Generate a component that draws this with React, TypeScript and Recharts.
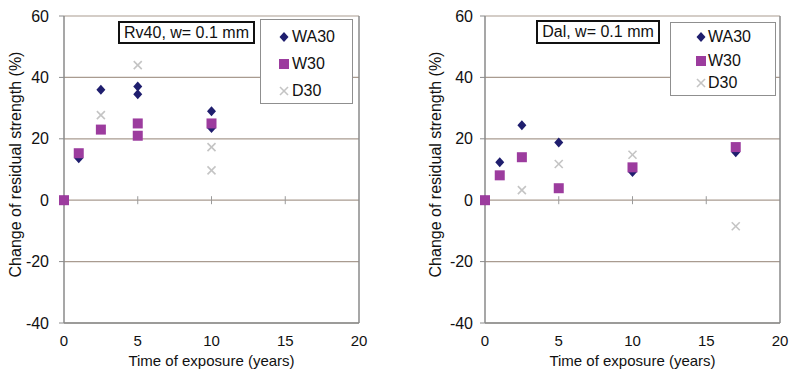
import React from 'react';
import {
  ScatterChart, Scatter, XAxis, YAxis, CartesianGrid, ReferenceLine, Legend,
} from 'recharts';

// ---------- data ----------
const xTicks = [0, 5, 10, 15, 20];
const yTicks = [-40, -20, 0, 20, 40, 60];
const zeroLineTicks = [5, 10, 15];
const seriesNames = ['WA30', 'W30', 'D30'];

// Left panel: Rv40, w= 0.1 mm
const rvWA30x = [0, 1, 2.5, 5, 5, 10, 10];
const rvWA30y = [0, 13.7, 36, 37, 34.5, 29, 23.5];
const rvW30x = [0, 1, 2.5, 5, 5, 10];
const rvW30y = [0, 15.3, 23, 25, 21, 25];
const rvD30x = [0, 2.5, 5, 10, 10];
const rvD30y = [0, 27.7, 44, 17.3, 9.7];

// Right panel: Dal, w= 0.1 mm
const dalWA30x = [0, 1, 2.5, 5, 10, 17];
const dalWA30y = [0, 12.4, 24.4, 18.8, 9.2, 15.6];
const dalW30x = [0, 1, 2.5, 5, 10, 17];
const dalW30y = [0, 8.1, 14, 3.9, 10.7, 17.3];
const dalD30x = [0, 2.5, 5, 10, 17];
const dalD30y = [0, 3.3, 11.8, 14.8, -8.5];

const zip = (xs: number[], ys: number[]) => xs.map((x, i) => ({ x, y: ys[i] }));

// ---------- styles ----------
const FONT = '"Liberation Sans", Arial, sans-serif';
const NAVY = '#1f1e6e';
const PURPLE = '#9c3c9e';
const LIGHT = '#c4c4c4';
const GRID = '#a99b90';
const AXIS = '#8a8a8a';

const Diamond = (p: any) => {
  const { cx, cy } = p;
  if (cx == null || cy == null) return null;
  return (
    <polygon
      points={`${cx},${cy - 5} ${cx + 4.5},${cy} ${cx},${cy + 5} ${cx - 4.5},${cy}`}
      fill={NAVY}
    />
  );
};
const Square = (p: any) => {
  const { cx, cy } = p;
  if (cx == null || cy == null) return null;
  return <rect x={cx - 5} y={cy - 5} width={10} height={10} fill={PURPLE} />;
};
const XMark = (p: any) => {
  const { cx, cy } = p;
  if (cx == null || cy == null) return null;
  return (
    <g stroke={LIGHT} strokeWidth={1.6}>
      <line x1={cx - 4} y1={cy - 4} x2={cx + 4} y2={cy + 4} />
      <line x1={cx - 4} y1={cy + 4} x2={cx + 4} y2={cy - 4} />
    </g>
  );
};

const markerFor = (name: string, cx: number, cy: number) => {
  if (name === 'WA30') return <Diamond cx={cx} cy={cy} />;
  if (name === 'W30') return <Square cx={cx} cy={cy} />;
  return <XMark cx={cx} cy={cy} />;
};

const makeLegend = (box: { left: number; top: number; width: number; height: number; rows: number[]; mx: number; tx: number }) =>
  () => (
    <div
      style={{
        position: 'relative', width: box.width, height: box.height,
        border: '1px solid #8f8f8f', background: '#fff', boxSizing: 'border-box',
        fontFamily: FONT, fontSize: 16, color: '#111',
      }}
    >
      {seriesNames.map((n, i) => (
        <div key={n} style={{ position: 'absolute', left: 0, top: box.rows[i] - 10, height: 20, width: '100%' }}>
          <svg width={20} height={20} style={{ position: 'absolute', left: box.mx - 10, top: 0 }}>
            {markerFor(n, 10, 10)}
          </svg>
          <span style={{ position: 'absolute', left: box.tx, top: 1, lineHeight: '18px' }}>{n}</span>
        </div>
      ))}
    </div>
  );

const yLabel = (offsetX: number) => (props: any) => {
  const vb = props.viewBox || { x: 0, y: 16, width: 64, height: 307 };
  const x = vb.x + offsetX;
  const y = vb.y + vb.height / 2 - 5;
  return (
    <text
      x={x} y={y} transform={`rotate(-90, ${x}, ${y})`} textAnchor="middle"
      dominantBaseline="central" fontFamily={FONT} fontSize={16} fill="#111"
    >
      Change of residual strength (%)
    </text>
  );
};

type PanelProps = {
  width: number;
  yAxisWidth: number;
  marginRight: number;
  yTickMargin: number;
  wa: { x: number; y: number }[];
  w: { x: number; y: number }[];
  d: { x: number; y: number }[];
  legendBox: { left: number; top: number; width: number; height: number; rows: number[]; mx: number; tx: number };
};

const Panel = (p: PanelProps) => (
  <ScatterChart
    width={p.width}
    height={371}
    margin={{ top: 16, right: p.marginRight, bottom: 0, left: 0 }}
    style={{ fontFamily: FONT }}
  >
    <CartesianGrid vertical={false} stroke={GRID} strokeWidth={1.2} />
    <XAxis
      type="number" dataKey="x" domain={[0, 20]} ticks={xTicks} interval={0}
      height={48} axisLine={{ stroke: AXIS, strokeWidth: 1.5 }} tickLine={false} tickSize={0} tickMargin={12}
      tick={{ fontSize: 15, fill: '#111', fontFamily: FONT }}
      label={{ value: 'Time of exposure  (years)', position: 'insideBottom', offset: 5, fontSize: 15, fill: '#111', fontFamily: FONT }}
    />
    <YAxis
      type="number" dataKey="y" domain={[-40, 60]} ticks={yTicks} interval={0}
      width={p.yAxisWidth} axisLine={{ stroke: AXIS, strokeWidth: 1.5 }} tickLine={{ stroke: AXIS }} tickSize={5} tickMargin={p.yTickMargin}
      tick={{ fontSize: 16, fill: '#111', fontFamily: FONT }}
      label={{ content: yLabel(15) }}
    />
    <ReferenceLine x={20} stroke={AXIS} strokeWidth={1.5} />
    {zeroLineTicks.map((t) => (
      <ReferenceLine key={t} segment={[{ x: t, y: -1.3 }, { x: t, y: 1.3 }]} stroke="#9a9a9a" strokeWidth={1} />
    ))}
    <Legend
      layout="vertical" align="center" verticalAlign="middle"
      wrapperStyle={{ position: 'absolute', left: p.legendBox.left, top: p.legendBox.top, width: p.legendBox.width, height: p.legendBox.height }}
      content={makeLegend(p.legendBox)}
    />
    <Scatter name="D30" data={p.d} shape={XMark} isAnimationActive={false} />
    <Scatter name="WA30" data={p.wa} shape={Diamond} isAnimationActive={false} />
    <Scatter name="W30" data={p.w} shape={Square} isAnimationActive={false} />
  </ScatterChart>
);

const TitleBox = ({ text, left, top, width, height }: { text: string; left: number; top: number; width: number; height: number }) => (
  <div
    style={{
      position: 'absolute', left, top, width, height, boxSizing: 'border-box',
      border: '2px solid #111', background: '#fff', fontFamily: FONT, fontSize: 16,
      color: '#111', display: 'flex', alignItems: 'center', justifyContent: 'center',
      whiteSpace: 'nowrap',
    }}
  >
    {text}
  </div>
);

export default function App() {
  return (
    <div style={{ position: 'absolute', left: 0, top: 0, width: 791, height: 371, background: '#fff', overflow: 'hidden' }}>
      <div style={{ position: 'absolute', left: 0, top: 0 }}>
        <Panel
          width={380} yAxisWidth={64} marginRight={21} yTickMargin={10}
          wa={zip(rvWA30x, rvWA30y)} w={zip(rvW30x, rvW30y)} d={zip(rvD30x, rvD30y)}
          legendBox={{ left: 260, top: 19, width: 93, height: 85, rows: [17, 44, 71], mx: 23, tx: 31 }}
        />
        <TitleBox text="Rv40, w= 0.1 mm" left={118} top={21} width={137} height={23} />
      </div>
      <div style={{ position: 'absolute', left: 420, top: 0 }}>
        <Panel
          width={371} yAxisWidth={65} marginRight={11} yTickMargin={7}
          wa={zip(dalWA30x, dalWA30y)} w={zip(dalW30x, dalW30y)} d={zip(dalD30x, dalD30y)}
          legendBox={{ left: 250, top: 22, width: 106, height: 74, rows: [14, 38, 60], mx: 30, tx: 37 }}
        />
        <TitleBox text="Dal, w= 0.1 mm" left={116} top={20} width={124} height={24} />
      </div>
    </div>
  );
}
